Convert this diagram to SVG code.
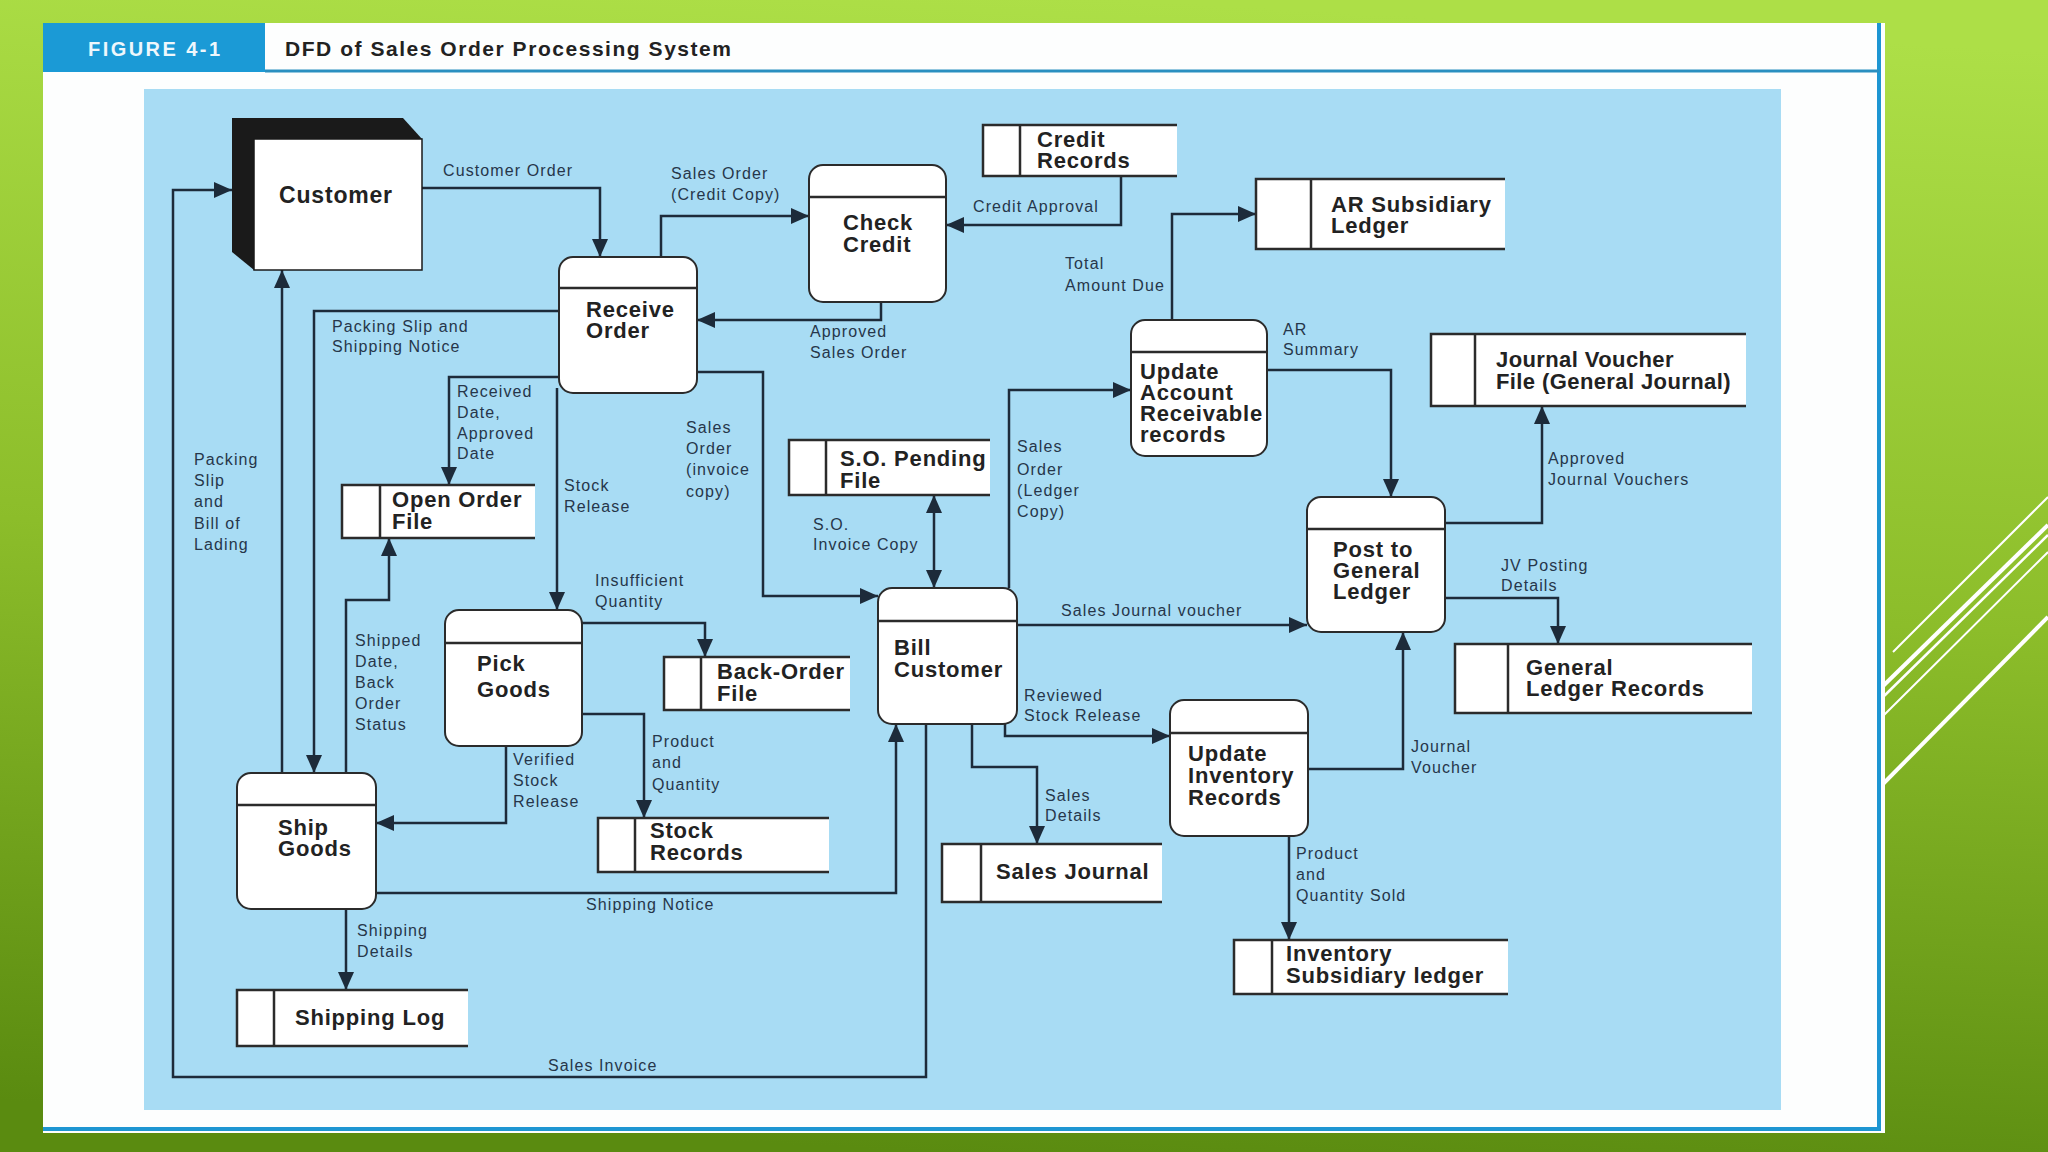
<svg xmlns="http://www.w3.org/2000/svg" width="2048" height="1152" viewBox="0 0 2048 1152">
<defs>
<linearGradient id="bg" x1="0.55" y1="0" x2="0.45" y2="1">
<stop offset="0" stop-color="#addf47"/>
<stop offset="0.5" stop-color="#8cbd2a"/>
<stop offset="1" stop-color="#5a8b10"/>
</linearGradient>
<marker id="ah" markerUnits="userSpaceOnUse" markerWidth="20" markerHeight="18" refX="18" refY="8" orient="auto-start-reverse">
<path d="M0,0 L18,8 L0,16 Z" fill="#1d2b3a"/>
</marker>
<style>
.proc rect{fill:#ffffff;stroke:#2b2b2b;stroke-width:2}
.proc line,.store path,.store line{stroke:#2b2b2b;stroke-width:2.5;fill:none}
.store rect{fill:#ffffff;stroke:none}
.t{font-family:"Liberation Sans",Arial,Helvetica,sans-serif;font-weight:bold;font-size:22px;fill:#222222;letter-spacing:0.8px}
.l{font-family:"Liberation Sans",Arial,Helvetica,sans-serif;font-size:16px;fill:#26364a;letter-spacing:1.1px}
.c{fill:none;stroke:#1d2b3a;stroke-width:2.5;marker-end:url(#ah)}
.deco{stroke:#ffffff;fill:none}
</style>
</defs>

<rect x="0" y="0" width="2048" height="1152" fill="url(#bg)"/>

<g id="decoration">
<line class="deco" x1="1893" y1="652" x2="2048" y2="497" stroke-width="2"/>
<line class="deco" x1="1880" y1="689" x2="2048" y2="525" stroke-width="4"/>
<line class="deco" x1="1880" y1="700" x2="2048" y2="535" stroke-width="2.5"/>
<line class="deco" x1="1880" y1="719" x2="2048" y2="552" stroke-width="2"/>
<line class="deco" x1="1880" y1="787" x2="2048" y2="617" stroke-width="4"/>
</g>

<g id="frame">
<rect x="43" y="23" width="1842" height="1110" fill="#fdfefe"/>
<line x1="1879" y1="23" x2="1879" y2="1130" stroke="#1e96d2" stroke-width="4"/>
<line x1="43" y1="1129" x2="1881" y2="1129" stroke="#1e96d2" stroke-width="4"/>
<rect x="43" y="23" width="222" height="49" fill="#1b9ad6"/>
<line x1="265" y1="71" x2="1879" y2="71" stroke="#2a8fc0" stroke-width="3"/>
<text x="88" y="56" font-family="'Liberation Sans',Arial,sans-serif" font-weight="bold" font-size="20" fill="#eef7fc" textLength="132" lengthAdjust="spacing">FIGURE 4-1</text>
<text x="285" y="56" font-family="'Liberation Sans',Arial,sans-serif" font-weight="bold" font-size="21" fill="#222222" textLength="446" lengthAdjust="spacing">DFD of Sales Order Processing System</text>
<rect x="144" y="89" width="1637" height="1021" fill="#a8dcf4"/>
</g>

<g id="connectors">
<path class="c" d="M422,188 H600 V257"/>
<path class="c" d="M661,257 V216 H809"/>
<path class="c" d="M1121,176 V225 H946"/>
<path class="c" d="M881,302 V320 H697"/>
<path class="c" d="M1172,320 V214 H1256"/>
<path class="c" d="M1267,370 H1391 V497"/>
<path class="c" d="M1009,588 V390 H1131"/>
<path class="c" d="M934,495 V588" style="marker-start:url(#ah)"/>
<path class="c" d="M697,372 H763 V596 H878"/>
<path class="c" d="M1445,523 H1542 V406"/>
<path class="c" d="M1445,598 H1558 V644"/>
<path class="c" d="M1017,625 H1307"/>
<path class="c" d="M1308,769 H1403 V632"/>
<path class="c" d="M1005,720 V736 H1170"/>
<path class="c" d="M972,724 V767 H1037 V844"/>
<path class="c" d="M1289,836 V940"/>
<path class="c" d="M376,893 H896 V724"/>
<path class="c" d="M926,724 V1077 H173 V190 H232"/>
<path class="c" d="M282,773 V270"/>
<path class="c" d="M559,311 H314 V773"/>
<path class="c" d="M559,377 H449 V485"/>
<path class="c" d="M557,388 V610"/>
<path class="c" d="M346,773 V600 H389 V538"/>
<path class="c" d="M582,623 H705 V657"/>
<path class="c" d="M582,714 H644 V818"/>
<path class="c" d="M506,746 V823 H376"/>
<path class="c" d="M346,909 V990"/>
</g>

<g id="labels">
<text class="l" x="443" y="176">Customer Order</text>
<text class="l"><tspan x="671" y="179">Sales Order</tspan><tspan x="671" y="200">(Credit Copy)</tspan></text>
<text class="l" x="973" y="212">Credit Approval</text>
<text class="l"><tspan x="810" y="337">Approved</tspan><tspan x="810" y="358">Sales Order</tspan></text>
<text class="l"><tspan x="1065" y="269">Total</tspan><tspan x="1065" y="291">Amount Due</tspan></text>
<text class="l"><tspan x="1283" y="335">AR</tspan><tspan x="1283" y="355">Summary</tspan></text>
<text class="l"><tspan x="1017" y="452">Sales</tspan><tspan x="1017" y="475">Order</tspan><tspan x="1017" y="496">(Ledger</tspan><tspan x="1017" y="517">Copy)</tspan></text>
<text class="l"><tspan x="813" y="530">S.O.</tspan><tspan x="813" y="550">Invoice Copy</tspan></text>
<text class="l"><tspan x="1548" y="464">Approved</tspan><tspan x="1548" y="485">Journal Vouchers</tspan></text>
<text class="l"><tspan x="1501" y="571">JV Posting</tspan><tspan x="1501" y="591">Details</tspan></text>
<text class="l" x="1061" y="616">Sales Journal voucher</text>
<text class="l"><tspan x="1024" y="701">Reviewed</tspan><tspan x="1024" y="721">Stock Release</tspan></text>
<text class="l"><tspan x="1411" y="752">Journal</tspan><tspan x="1411" y="773">Voucher</tspan></text>
<text class="l"><tspan x="1045" y="801">Sales</tspan><tspan x="1045" y="821">Details</tspan></text>
<text class="l"><tspan x="1296" y="859">Product</tspan><tspan x="1296" y="880">and</tspan><tspan x="1296" y="901">Quantity Sold</tspan></text>
<text class="l"><tspan x="332" y="332">Packing Slip and</tspan><tspan x="332" y="352">Shipping Notice</tspan></text>
<text class="l"><tspan x="457" y="397">Received</tspan><tspan x="457" y="418">Date,</tspan><tspan x="457" y="439">Approved</tspan><tspan x="457" y="459">Date</tspan></text>
<text class="l"><tspan x="564" y="491">Stock</tspan><tspan x="564" y="512">Release</tspan></text>
<text class="l"><tspan x="686" y="433">Sales</tspan><tspan x="686" y="454">Order</tspan><tspan x="686" y="475">(invoice</tspan><tspan x="686" y="497">copy)</tspan></text>
<text class="l"><tspan x="194" y="465">Packing</tspan><tspan x="194" y="486">Slip</tspan><tspan x="194" y="507">and</tspan><tspan x="194" y="529">Bill of</tspan><tspan x="194" y="550">Lading</tspan></text>
<text class="l"><tspan x="355" y="646">Shipped</tspan><tspan x="355" y="667">Date,</tspan><tspan x="355" y="688">Back</tspan><tspan x="355" y="709">Order</tspan><tspan x="355" y="730">Status</tspan></text>
<text class="l"><tspan x="595" y="586">Insufficient</tspan><tspan x="595" y="607">Quantity</tspan></text>
<text class="l"><tspan x="513" y="765">Verified</tspan><tspan x="513" y="786">Stock</tspan><tspan x="513" y="807">Release</tspan></text>
<text class="l"><tspan x="652" y="747">Product</tspan><tspan x="652" y="768">and</tspan><tspan x="652" y="790">Quantity</tspan></text>
<text class="l" x="586" y="910">Shipping Notice</text>
<text class="l"><tspan x="357" y="936">Shipping</tspan><tspan x="357" y="957">Details</tspan></text>
<text class="l" x="548" y="1071">Sales Invoice</text>
</g>

<g id="customer">
<path d="M232,118 H403 L422,139 V270 H254 L232,252 Z" fill="#1a1a1a"/>
<rect x="254" y="139" width="168" height="131" fill="#ffffff" stroke="#1a1a1a" stroke-width="1.5"/>
<text class="t" x="336" y="203" text-anchor="middle" style="font-size:23px">Customer</text>
</g>

<g id="receive-order" class="proc">
<rect x="559" y="257" width="138" height="136" rx="14"/>
<line x1="559" y1="288" x2="697" y2="288"/>
<text class="t"><tspan x="586" y="317">Receive</tspan><tspan x="586" y="338">Order</tspan></text>
</g>

<g id="check-credit" class="proc">
<rect x="809" y="165" width="137" height="137" rx="14"/>
<line x1="809" y1="197" x2="946" y2="197"/>
<text class="t"><tspan x="843" y="230">Check</tspan><tspan x="843" y="252">Credit</tspan></text>
</g>

<g id="update-ar" class="proc">
<rect x="1131" y="320" width="136" height="136" rx="14"/>
<line x1="1131" y1="352" x2="1267" y2="352"/>
<text class="t"><tspan x="1140" y="379">Update</tspan><tspan x="1140" y="400">Account</tspan><tspan x="1140" y="421">Receivable</tspan><tspan x="1140" y="442">records</tspan></text>
</g>

<g id="post-gl" class="proc">
<rect x="1307" y="497" width="138" height="135" rx="14"/>
<line x1="1307" y1="529" x2="1445" y2="529"/>
<text class="t"><tspan x="1333" y="557">Post to</tspan><tspan x="1333" y="578">General</tspan><tspan x="1333" y="599">Ledger</tspan></text>
</g>

<g id="bill-customer" class="proc">
<rect x="878" y="588" width="139" height="136" rx="14"/>
<line x1="878" y1="621" x2="1017" y2="621"/>
<text class="t"><tspan x="894" y="655">Bill</tspan><tspan x="894" y="677">Customer</tspan></text>
</g>

<g id="update-inventory" class="proc">
<rect x="1170" y="700" width="138" height="136" rx="14"/>
<line x1="1170" y1="733" x2="1308" y2="733"/>
<text class="t"><tspan x="1188" y="761">Update</tspan><tspan x="1188" y="783">Inventory</tspan><tspan x="1188" y="805">Records</tspan></text>
</g>

<g id="pick-goods" class="proc">
<rect x="445" y="610" width="137" height="136" rx="14"/>
<line x1="445" y1="643" x2="582" y2="643"/>
<text class="t"><tspan x="477" y="671">Pick</tspan><tspan x="477" y="697">Goods</tspan></text>
</g>

<g id="ship-goods" class="proc">
<rect x="237" y="773" width="139" height="136" rx="14"/>
<line x1="237" y1="805" x2="376" y2="805"/>
<text class="t"><tspan x="278" y="835">Ship</tspan><tspan x="278" y="856">Goods</tspan></text>
</g>

<g id="credit-records" class="store">
<rect x="983" y="125" width="194" height="51"/>
<path d="M1177,125 H983 V176 H1177"/>
<line x1="1020" y1="125" x2="1020" y2="176"/>
<text class="t"><tspan x="1037" y="147">Credit</tspan><tspan x="1037" y="168">Records</tspan></text>
</g>

<g id="ar-subsidiary-ledger" class="store">
<rect x="1256" y="179" width="249" height="70"/>
<path d="M1505,179 H1256 V249 H1505"/>
<line x1="1311" y1="179" x2="1311" y2="249"/>
<text class="t"><tspan x="1331" y="212">AR Subsidiary</tspan><tspan x="1331" y="233">Ledger</tspan></text>
</g>

<g id="journal-voucher-file" class="store">
<rect x="1431" y="334" width="315" height="72"/>
<path d="M1746,334 H1431 V406 H1746"/>
<line x1="1475" y1="334" x2="1475" y2="406"/>
<text class="t" style="letter-spacing:0.4px"><tspan x="1496" y="367">Journal Voucher</tspan><tspan x="1496" y="389">File (General Journal)</tspan></text>
</g>

<g id="general-ledger-records" class="store">
<rect x="1455" y="644" width="297" height="69"/>
<path d="M1752,644 H1455 V713 H1752"/>
<line x1="1508" y1="644" x2="1508" y2="713"/>
<text class="t"><tspan x="1526" y="675">General</tspan><tspan x="1526" y="696">Ledger Records</tspan></text>
</g>

<g id="so-pending-file" class="store">
<rect x="789" y="440" width="201" height="55"/>
<path d="M990,440 H789 V495 H990"/>
<line x1="826" y1="440" x2="826" y2="495"/>
<text class="t"><tspan x="840" y="466">S.O. Pending</tspan><tspan x="840" y="488">File</tspan></text>
</g>

<g id="open-order-file" class="store">
<rect x="342" y="485" width="193" height="53"/>
<path d="M535,485 H342 V538 H535"/>
<line x1="380" y1="485" x2="380" y2="538"/>
<text class="t"><tspan x="392" y="507">Open Order</tspan><tspan x="392" y="529">File</tspan></text>
</g>

<g id="back-order-file" class="store">
<rect x="664" y="657" width="186" height="53"/>
<path d="M850,657 H664 V710 H850"/>
<line x1="701" y1="657" x2="701" y2="710"/>
<text class="t"><tspan x="717" y="679">Back-Order</tspan><tspan x="717" y="701">File</tspan></text>
</g>

<g id="stock-records" class="store">
<rect x="598" y="818" width="231" height="54"/>
<path d="M829,818 H598 V872 H829"/>
<line x1="635" y1="818" x2="635" y2="872"/>
<text class="t"><tspan x="650" y="838">Stock</tspan><tspan x="650" y="860">Records</tspan></text>
</g>

<g id="sales-journal" class="store">
<rect x="942" y="844" width="220" height="58"/>
<path d="M1162,844 H942 V902 H1162"/>
<line x1="981" y1="844" x2="981" y2="902"/>
<text class="t" x="996" y="879">Sales Journal</text>
</g>

<g id="inventory-subsidiary-ledger" class="store">
<rect x="1234" y="940" width="274" height="54"/>
<path d="M1508,940 H1234 V994 H1508"/>
<line x1="1272" y1="940" x2="1272" y2="994"/>
<text class="t"><tspan x="1286" y="961">Inventory</tspan><tspan x="1286" y="983">Subsidiary ledger</tspan></text>
</g>

<g id="shipping-log" class="store">
<rect x="237" y="990" width="231" height="56"/>
<path d="M468,990 H237 V1046 H468"/>
<line x1="274" y1="990" x2="274" y2="1046"/>
<text class="t" x="295" y="1025">Shipping Log</text>
</g>
</svg>
